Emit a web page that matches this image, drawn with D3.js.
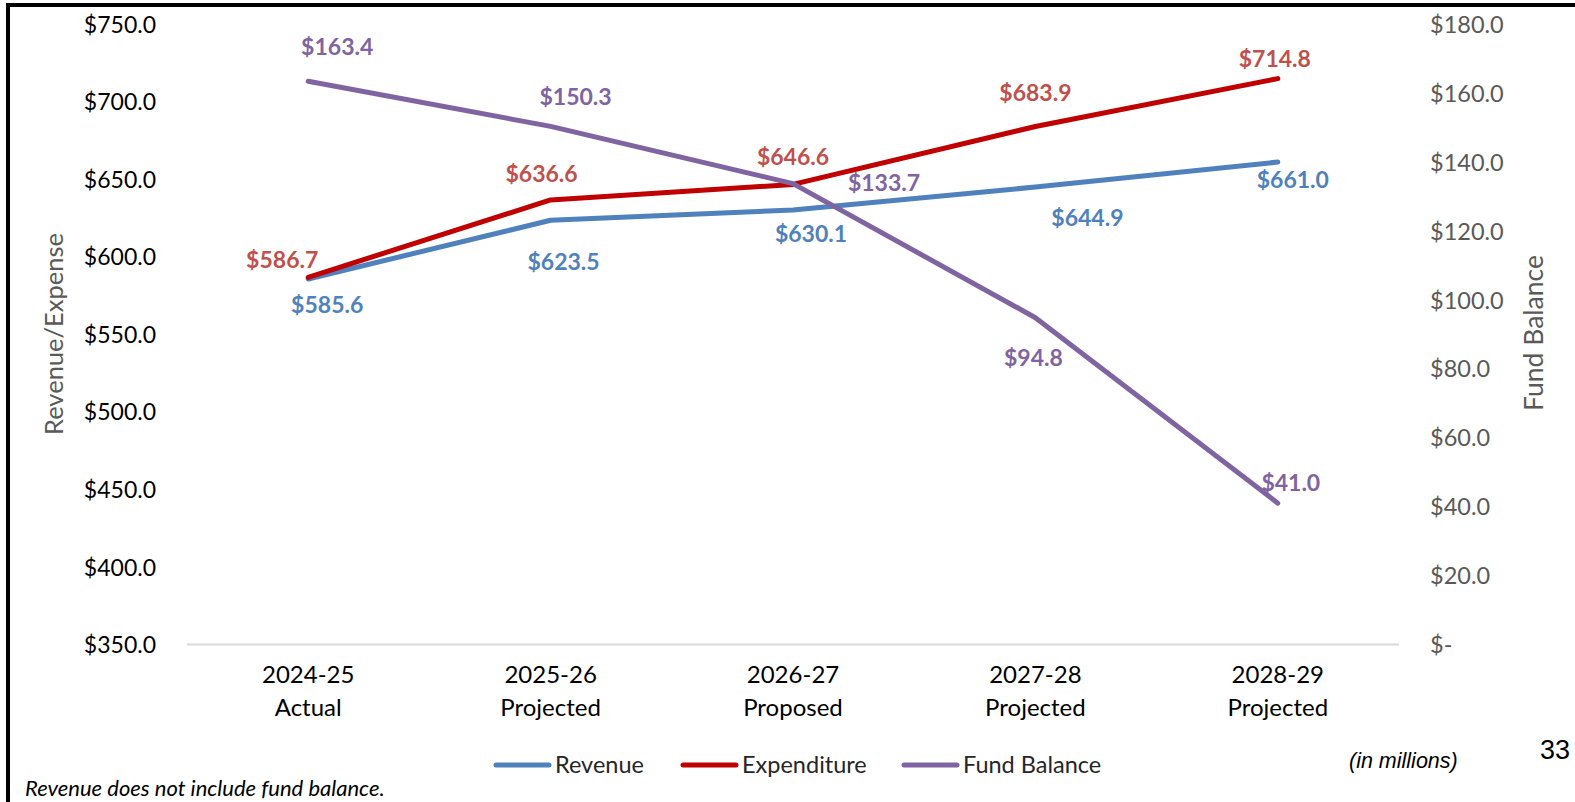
<!DOCTYPE html>
<html><head><meta charset="utf-8">
<script src="https://cdn.jsdelivr.net/npm/d3@7"></script>
<style>body{margin:0;background:#fff}svg{display:block}</style>
</head><body>
<svg id="c" width="1575" height="802"></svg>
<script>
const categories = [["2024-25","Actual"],["2025-26","Projected"],["2026-27","Proposed"],["2027-28","Projected"],["2028-29","Projected"]];
const revenue = [585.6, 623.5, 630.1, 644.9, 661.0];
const expenditure = [586.7, 636.6, 646.6, 683.9, 714.8];
const fundBalance = [163.4, 150.3, 133.7, 94.8, 41.0];
const leftTicks = [350, 400, 450, 500, 550, 600, 650, 700, 750];
const rightTicks = [0, 20, 40, 60, 80, 100, 120, 140, 160, 180];

// label offsets (layout only)
const revOff = [[19,26],[13,42],[18,24],[52,31],[15,18]];
const expOff = [[-26,-17],[-9,-26],[0,-27],[0,-34],[-3,-20]];
const fbOff  = [[29,-34],[25,-29],[91,-1],[-2,40],[13,-20]];

const svg = d3.select("#c");
const F = "Lato, 'Open Sans', sans-serif";
const x = d3.scalePoint().domain(d3.range(categories.length)).range([187,1399]).padding(0.5);
const yL = d3.scaleLinear().domain([350,750]).range([644.5,24]);
const yR = d3.scaleLinear().domain([0,180]).range([644.5,24]);

// frame
svg.append("line").attr("x1",6).attr("x2",1575).attr("y1",5).attr("y2",5).attr("stroke","#000").attr("stroke-width",4);
svg.append("line").attr("x1",8).attr("x2",8).attr("y1",3).attr("y2",802).attr("stroke","#000").attr("stroke-width",4);

// baseline
svg.append("line").attr("x1",187).attr("x2",1399).attr("y1",yL(350)).attr("y2",yL(350)).attr("stroke","#d9d9d9").attr("stroke-width",2);

// left axis
const gL = svg.append("g").attr("transform","translate(156,0)")
  .call(d3.axisLeft(yL).tickValues(leftTicks).tickSize(0).tickPadding(0).tickFormat(d=>"$"+d3.format(".1f")(d)));
gL.select(".domain").remove();
gL.selectAll("text").attr("font-family",F).attr("font-size",23).attr("fill","#000").attr("dy","0.35em");

// right axis
const gR = svg.append("g").attr("transform","translate(1430,0)")
  .call(d3.axisRight(yR).tickValues(rightTicks).tickSize(0).tickPadding(0).tickFormat(d=> d===0 ? "$-" : "$"+d3.format(".1f")(d)));
gR.select(".domain").remove();
gR.selectAll("text").attr("font-family",F).attr("font-size",23.5).attr("fill","#595959").attr("dy","0.35em");

// x axis labels
const gx = svg.append("g");
categories.forEach((c,i)=>{
  const t = gx.append("text").attr("x",x(i)).attr("text-anchor","middle").attr("font-family",F).attr("font-size",24).attr("fill","#000");
  t.append("tspan").attr("x",x(i)).attr("y",683).text(c[0]);
  t.append("tspan").attr("x",x(i)).attr("y",716).text(c[1]);
});

// axis titles
svg.append("text").attr("transform","translate(63,334) rotate(-90)").attr("text-anchor","middle")
  .attr("font-family",F).attr("font-size",25.5).attr("fill","#595959").text("Revenue/Expense");
svg.append("text").attr("transform","translate(1543,333) rotate(-90)").attr("text-anchor","middle")
  .attr("font-family",F).attr("font-size",26.5).attr("fill","#595959").text("Fund Balance");

const series = [
  {vals:revenue, y:yL, color:"#4F81BD", lab:"#4F81BD", off:revOff},
  {vals:expenditure, y:yL, color:"#C00000", lab:"#C0504D", off:expOff},
  {vals:fundBalance, y:yR, color:"#8064A2", lab:"#8064A2", off:fbOff}
];
series.forEach(s=>{
  const line = d3.line().x((d,i)=>x(i)).y(d=>s.y(d));
  svg.append("path").datum(s.vals).attr("d",line).attr("fill","none").attr("stroke",s.color)
    .attr("stroke-width",5).attr("stroke-linecap","round").attr("stroke-linejoin","round");
});
series.forEach(s=>{
  svg.append("g").selectAll("text").data(s.vals).join("text")
    .attr("x",(d,i)=>x(i)+s.off[i][0]).attr("y",(d,i)=>s.y(d)+s.off[i][1])
    .attr("dy","0.35em").attr("text-anchor","middle").attr("font-family",F).attr("font-weight","bold")
    .attr("font-size",23).attr("fill",s.lab).text(d=>"$"+d3.format(".1f")(d));
});

// legend
const legend = [["Revenue","#4F81BD",494],["Expenditure","#C00000",681],["Fund Balance","#8064A2",902]];
legend.forEach(l=>{
  svg.append("line").attr("x1",l[2]+2).attr("x2",l[2]+55).attr("y1",765).attr("y2",765)
    .attr("stroke",l[1]).attr("stroke-width",5).attr("stroke-linecap","round");
  svg.append("text").attr("x",l[2]+61).attr("y",765).attr("dy","0.35em").attr("font-family",F)
    .attr("font-size",23.5).attr("fill","#262626").text(l[0]);
});

svg.append("text").attr("x",25).attr("y",788).attr("dy","0.35em").attr("font-family",F).attr("font-style","italic")
  .attr("font-size",22).attr("fill","#000").text("Revenue does not include fund balance.");
svg.append("text").attr("x",1349).attr("y",760).attr("dy","0.35em").attr("font-family","'Liberation Sans', Arial, sans-serif").attr("font-style","italic")
  .attr("font-size",21.5).attr("fill","#000").text("(in millions)");
svg.append("text").attr("x",1540).attr("y",750).attr("dy","0.35em").attr("font-family","'Liberation Sans', Arial, sans-serif")
  .attr("font-size",27).attr("fill","#000").text("33");
</script>
</body></html>
